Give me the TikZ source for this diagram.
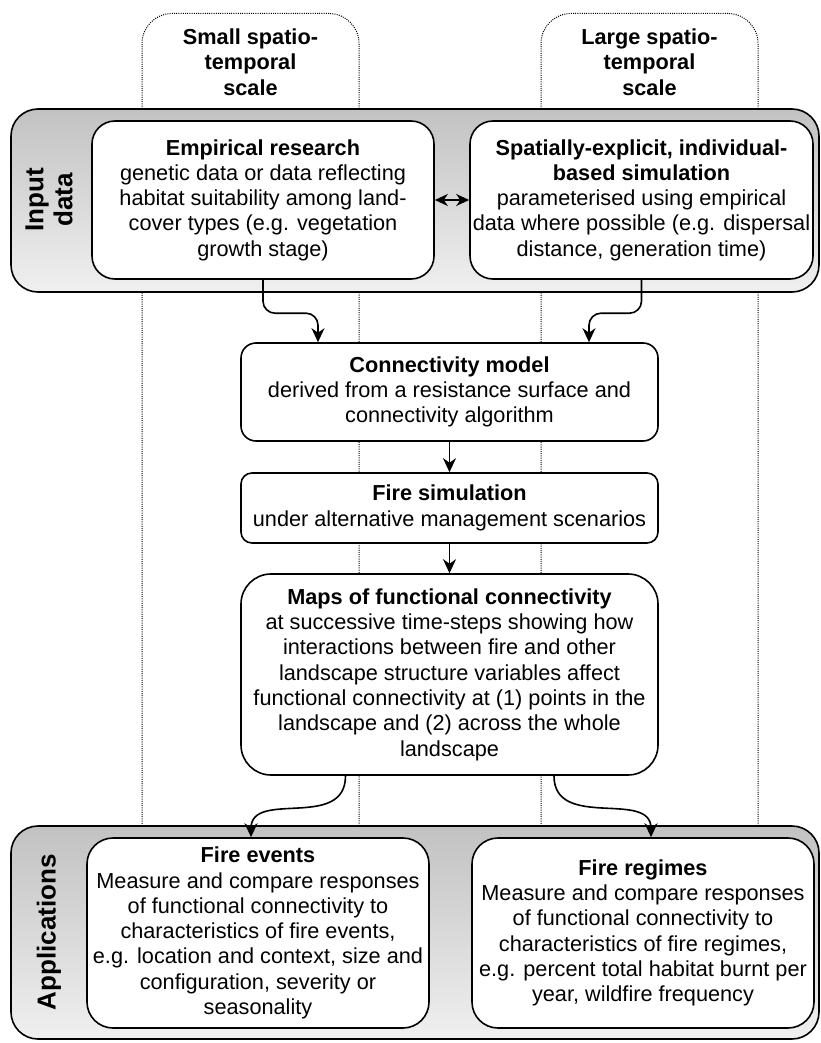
\documentclass[tikz,border=0pt]{standalone}
\usepackage{fontspec}
\setmainfont{Liberation Sans}
\usetikzlibrary{arrows.meta}
\newcommand\bodyfs{\fontsize{21.7}{25.3}\selectfont}
\newcommand\sidefs{\fontsize{26}{29}\selectfont\bfseries}
\begin{document}
\begin{tikzpicture}[x=1pt,y=-1pt,
  scalebox/.style={draw=black, line width=1pt, dash pattern=on 1pt off 1.2pt, rounded corners=30pt, minimum width=217pt, minimum height=900pt, anchor=north, inner sep=0pt},
  container/.style={draw=black, line width=1.6pt, top color=black!24, bottom color=black!6, rounded corners=27pt, inner sep=0pt},
  box/.style={draw=black, line width=1.6pt, fill=white, align=center, inner sep=0pt, font=\bodyfs},
  hdr/.style={align=center, font=\bodyfs\bfseries, inner sep=0pt},
  side/.style={align=center, font=\sidefs, rotate=90, inner sep=0pt},
  arr/.style={line width=1.6pt, -{Stealth[length=14pt,width=13pt,inset=4.5pt]}},
  darr/.style={line width=1.6pt, {Stealth[length=13pt,width=12pt,inset=4pt]}-{Stealth[length=13pt,width=12pt,inset=4pt]}}
]
\useasboundingbox (0,0) rectangle (821,1043);

% scale columns
\node[scalebox] (smallbox) at (250.5,13) {};
\node[scalebox] (largebox) at (649.5,13) {};
\node[hdr] (smalltxt) at (250.5,62) {Small spatio-\\temporal\\scale};
\node[hdr] (largetxt) at (649.5,62) {Large spatio-\\temporal\\scale};

% containers
\node[container, minimum width=808pt, minimum height=183pt] (input) at (415,200.5) {};
\node[container, minimum width=808pt, minimum height=213pt] (apps) at (415,932.5) {};
\node[side] (inlabel) at (49,200) {Input\\data};
\node[side] (applabel) at (49,932) {Applications};

% boxes
\node[box, rounded corners=23pt, minimum width=342pt, minimum height=158pt] (emp) at (263,200)
 {\textbf{Empirical research}\\genetic data or data reflecting\\habitat suitability among land-\\cover types (e.g. vegetation\\growth stage)};
\node[box, rounded corners=23pt, minimum width=343pt, minimum height=158pt] (sim) at (641.5,200)
 {\textbf{Spatially-explicit, individual-}\\\textbf{based simulation}\\parameterised using empirical\\data where possible (e.g. dispersal\\distance, generation time)};
\node[box, rounded corners=15pt, minimum width=417pt, minimum height=98pt] (conn) at (449.5,392)
 {\textbf{Connectivity model}\\derived from a resistance surface and\\connectivity algorithm};
\node[box, rounded corners=11pt, minimum width=417pt, minimum height=70pt] (fire) at (449.5,508)
 {\textbf{Fire simulation}\\under alternative management scenarios};
\node[box, rounded corners=30pt, minimum width=417pt, minimum height=201pt] (maps) at (449.5,674.5)
 {\textbf{Maps of functional connectivity}\\at successive time-steps showing how\\interactions between fire and other\\landscape structure variables affect\\functional connectivity at (1) points in the\\landscape and (2) across the whole\\landscape};
\node[box, rounded corners=26pt, minimum width=342pt, minimum height=190pt] (events) at (258,933)
 {\textbf{Fire events}\\Measure and compare responses\\of functional connectivity to\\characteristics of fire events,\\e.g. location and context, size and\\configuration, severity or\\seasonality};
\node[box, rounded corners=26pt, minimum width=342pt, minimum height=190pt] (regimes) at (643,933)
 {\textbf{Fire regimes}\\Measure and compare responses\\of functional connectivity to\\characteristics of fire regimes,\\e.g. percent total habitat burnt per\\year, wildfire frequency};

% connectors
\draw[darr] (emp.east) -- (sim.west);
\draw[arr, rounded corners=12pt] (emp.south) |- ([xshift=-131.5pt,yshift=29pt]conn.north) -- ([xshift=-131.5pt]conn.north);
\draw[arr, rounded corners=12pt] (sim.south) |- ([xshift=139.5pt,yshift=29pt]conn.north) -- ([xshift=139.5pt]conn.north);
\draw[arr] (conn.south) -- (fire.north);
\draw[arr] (fire.south) -- (maps.north);
\draw[arr] ([xshift=-104pt]maps.south) .. controls +(0,55) and +(0,-48) .. ([xshift=-7pt]events.north);
\draw[arr] ([xshift=104.5pt]maps.south) .. controls +(0,55) and +(0,-48) .. ([xshift=8pt]regimes.north);
\end{tikzpicture}
\end{document}
